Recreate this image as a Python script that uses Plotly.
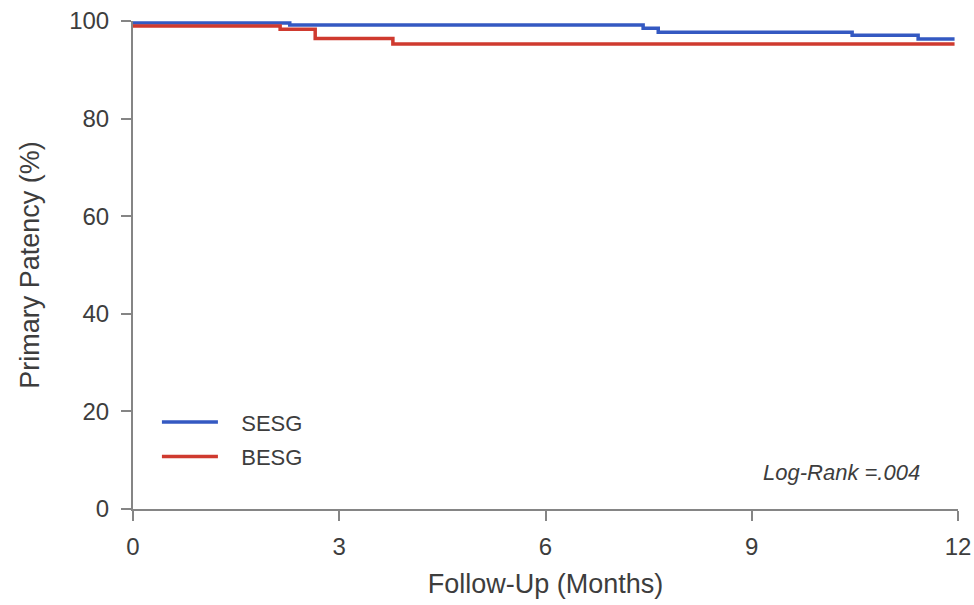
import plotly.graph_objects as go

# Kaplan-Meier step data (months, % patency)
sesg_t = [0, 2.28, 7.42, 7.64, 10.46, 11.42, 11.95]
sesg_s = [99.6, 99.2, 98.5, 97.7, 97.1, 96.3, 96.3]
besg_t = [0, 2.14, 2.65, 3.78, 11.95]
besg_s = [99.0, 98.3, 96.4, 95.3, 95.3]

x_ticks = [0, 3, 6, 9, 12]
y_ticks = [0, 20, 40, 60, 80, 100]

blue = "#3459c2"
red = "#cf3a2f"
axis_col = "#858585"
text_col = "#3d3d3d"
font_family = "Liberation Sans, Arial, sans-serif"
pad = "\u00a0\u00a0\u00a0"

fig = go.Figure()
fig.add_trace(go.Scatter(x=sesg_t, y=sesg_s, mode="lines", name=pad + "SESG", legendgroup="a",
                         line=dict(color=blue, width=3.5, shape="hv")))
fig.add_trace(go.Scatter(x=besg_t, y=besg_s, mode="lines", name=pad + "BESG", legendgroup="b",
                         line=dict(color=red, width=3.5, shape="hv")))

fig.add_annotation(x=11.48, y=7.5, xref="x", yref="y", text="<i>Log-Rank =.004</i>",
                   showarrow=False, xanchor="right", yanchor="middle",
                   font=dict(size=22, color=text_col, family=font_family))

fig.update_layout(
    width=974, height=605,
    margin=dict(l=133, r=16, t=21, b=96),
    paper_bgcolor="white", plot_bgcolor="white",
    font=dict(family=font_family, size=22, color=text_col),
    showlegend=True,
    legend=dict(x=0.029, y=0.221, xanchor="left", yanchor="top",
                bgcolor="rgba(0,0,0,0)", font=dict(size=22, color=text_col),
                itemwidth=56, tracegroupgap=3),
    xaxis=dict(range=[0, 12], tickvals=x_ticks, ticktext=[str(v) for v in x_ticks],
               automargin=False,
               showgrid=False, zeroline=False, showline=True, linecolor=axis_col, linewidth=2,
               ticks="outside", ticklen=10, tickwidth=2, tickcolor=axis_col,
               ticklabelstandoff=5,
               tickfont=dict(size=24, color=text_col),
               title=dict(text="Follow-Up (Months)", font=dict(size=27, color=text_col), standoff=15)),
    yaxis=dict(range=[0, 100], tickvals=y_ticks, ticktext=[str(v) for v in y_ticks],
               automargin=False,
               showgrid=False, zeroline=False, showline=True, linecolor=axis_col, linewidth=2,
               ticks="outside", ticklen=10, tickwidth=2, tickcolor=axis_col,
               ticklabelstandoff=7,
               tickfont=dict(size=24, color=text_col),
               title=dict(text="Primary Patency (%)", font=dict(size=27, color=text_col), standoff=22)),
)

fig.write_html("out.html")
